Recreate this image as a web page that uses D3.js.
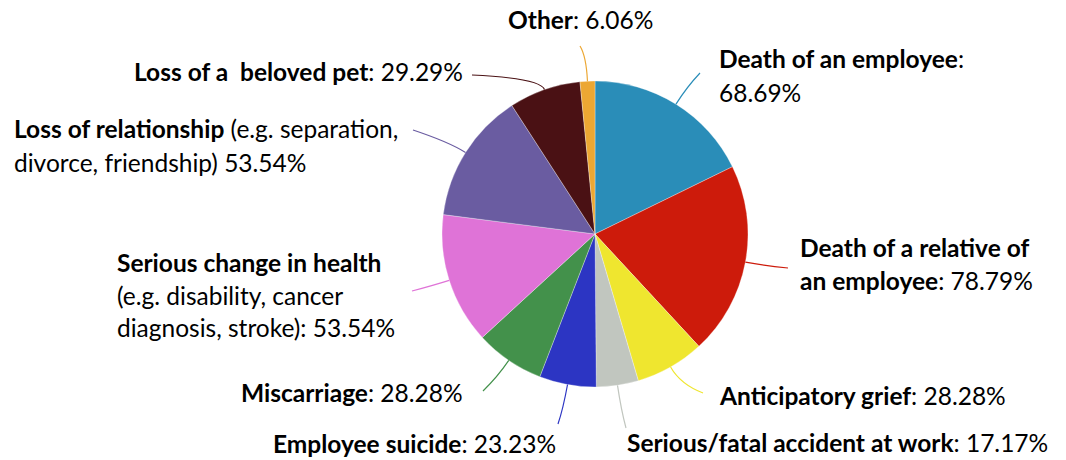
<!DOCTYPE html>
<html>
<head>
<meta charset="utf-8">
<script src="https://cdn.jsdelivr.net/npm/d3@7"></script>
<style>
  html, body { margin: 0; padding: 0; background: #fff; }
  svg { display: block; }
  text { font-family: Lato, "Noto Sans", sans-serif; fill: #000; white-space: pre; }
</style>
</head>
<body>
<svg id="chart" width="1066" height="460"></svg>
<script>
// ---- data ----
const categories = [
  "Death of an employee",
  "Death of a relative of an employee",
  "Anticipatory grief",
  "Serious/fatal accident at work",
  "Employee suicide",
  "Miscarriage",
  "Serious change in health",
  "Loss of relationship",
  "Loss of a  beloved pet",
  "Other"
];
const values = [68.69, 78.79, 28.28, 17.17, 23.23, 28.28, 53.54, 53.54, 29.29, 6.06];
const valueLabels = ["68.69%", "78.79%", "28.28%", "17.17%", "23.23%", "28.28%", "53.54%", "53.54%", "29.29%", "6.06%"];
const colors = ["#2a8db8", "#cd1b0b", "#efe62f", "#c1c6bf", "#2c35c3", "#43914b", "#df73d7", "#6a5ca1", "#4a1114", "#eca733"];

// label text lines: segments [text, bold]
const labelLines = [
  [[["Death of an employee", true], [":", false]], [["68.69%", false]]],
  [[["Death of a relative of", true]], [["an employee", true], [": 78.79%", false]]],
  [[["Anticipatory grief", true], [": 28.28%", false]]],
  [[["Serious/fatal accident at work", true], [": 17.17%", false]]],
  [[["Employee suicide", true], [": 23.23%", false]]],
  [[["Miscarriage", true], [": 28.28%", false]]],
  [[["Serious change in health", true]], [["(e.g. disability, cancer", false]], [["diagnosis, stroke): 53.54%", false]]],
  [[["Loss of relationship", true], [" (e.g. separation,", false]], [["divorce, friendship) 53.54%", false]]],
  [[["Loss of a  beloved pet", true], [": 29.29%", false]]],
  [[["Other", true], [": 6.06%", false]]]
];

// ---- layout ----
const W = 1066, H = 460;
const cx = 595, cy = 234, R = 153;
const fontSize = 24.5;
// label anchor (left x, first baseline y) and line spacing
const labelPos = [
  [719, 68, 34], [800, 257, 33], [720, 405, 33], [627, 452, 33], [273, 453, 33],
  [241, 402, 33], [117, 272, 32.5], [14, 138, 34], [134, 81, 33], [508, 29, 33]
];
// leader end points and control offsets
const leaderEnd = [
  [700, 73], [788, 268], [703, 393], [626, 428], [558, 424],
  [483, 391], [412, 291], [413, 130], [472, 75], [580, 46]
];
const leaderCtrl = [20, 20, 20, 25, 25, 20, 15, 20, 12, 25];

const svg = d3.select("#chart");

const pie = d3.pie().sort(null).value(d => d)(values);
const arc = d3.arc().innerRadius(0).outerRadius(R);

const g = svg.append("g").attr("transform", `translate(${cx},${cy})`);
g.selectAll("path.slice")
  .data(pie)
  .join("path")
  .attr("class", "slice")
  .attr("d", arc)
  .attr("fill", (d, i) => colors[i])
  .attr("stroke", "#ffffff")
  .attr("stroke-opacity", 0.5)
  .attr("stroke-width", 0.6);

// leader lines
function pt(angle, r) {
  return [cx + r * Math.sin(angle), cy - r * Math.cos(angle)];
}
svg.selectAll("path.leader")
  .data(pie)
  .join("path")
  .attr("class", "leader")
  .attr("fill", "none")
  .attr("stroke", (d, i) => colors[i])
  .attr("stroke-width", 1.2)
  .attr("d", (d, i) => {
    const mid = (d.startAngle + d.endAngle) / 2;
    const s = pt(mid, R);
    const c = pt(mid, R + leaderCtrl[i]);
    const e = leaderEnd[i];
    const p = d3.path();
    p.moveTo(s[0], s[1]);
    p.quadraticCurveTo(c[0], c[1], e[0], e[1]);
    return p.toString();
  });

// labels
labelLines.forEach((lines, i) => {
  const [x, y, dy] = labelPos[i];
  const t = svg.append("text")
    .attr("x", x).attr("y", y)
    .style("font-size", fontSize + "px")
    .attr("xml:space", "preserve");
  lines.forEach((segs, li) => {
    segs.forEach((seg, si) => {
      const ts = t.append("tspan")
        .style("font-weight", seg[1] ? 700 : 400)
        .text(seg[0]);
      if (si === 0) ts.attr("x", x).attr("y", y + li * dy);
    });
  });
});
</script>
</body>
</html>
